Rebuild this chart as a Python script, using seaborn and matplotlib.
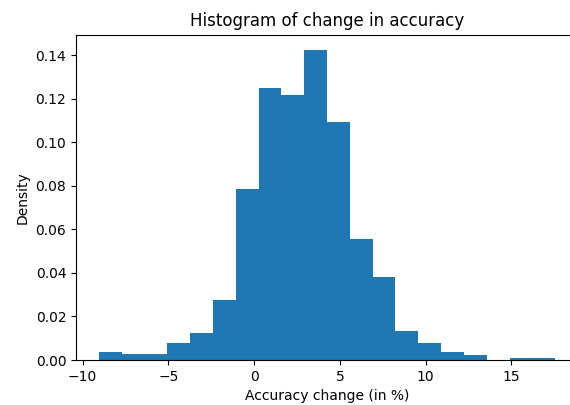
import matplotlib
matplotlib.use('Agg')
import matplotlib.pyplot as plt
import seaborn as sns
import pandas as pd

# Bin edges and densities
binEdges = [-9.05, -7.72, -6.39, -5.06, -3.73, -2.40, -1.07, 0.26, 1.59, 2.92, 4.25,
            5.58, 6.91, 8.24, 9.57, 10.90, 12.23, 13.56, 14.89, 16.22, 17.55]
binCenters = [-8.385, -7.055, -5.725, -4.395, -3.065, -1.735, -0.405, 0.925, 2.255, 3.585,
              4.915, 6.245, 7.575, 8.905, 10.235, 11.565, 12.895, 14.225, 15.555, 16.885]
density = [0.0035, 0.0027, 0.0027, 0.0076, 0.0124, 0.0276, 0.0783, 0.1250, 0.1217, 0.1423,
           0.1093, 0.0556, 0.0379, 0.0131, 0.0076, 0.0035, 0.0021, 0.0, 0.0008, 0.0008]

data = pd.DataFrame({'change': binCenters, 'density': density})

fig = plt.figure(figsize=(5.7, 4.05), dpi=100)
# axes run past the right edge: the reference image is cropped there
ax = fig.add_axes([76 / 570, 1 - 360 / 405, 502 / 570, (360 - 34.6) / 405])
sns.histplot(data=data, x='change', weights='density', bins=binEdges, stat='count',
             color='#1f77b4', alpha=1, linewidth=0, ax=ax)
ax.spines['right'].set_visible(False)
ax.set_title('Histogram of change in accuracy')
ax.set_xlabel('Accuracy change (in %)')
ax.set_ylabel('Density')
fig.savefig('out.png', dpi=100)
